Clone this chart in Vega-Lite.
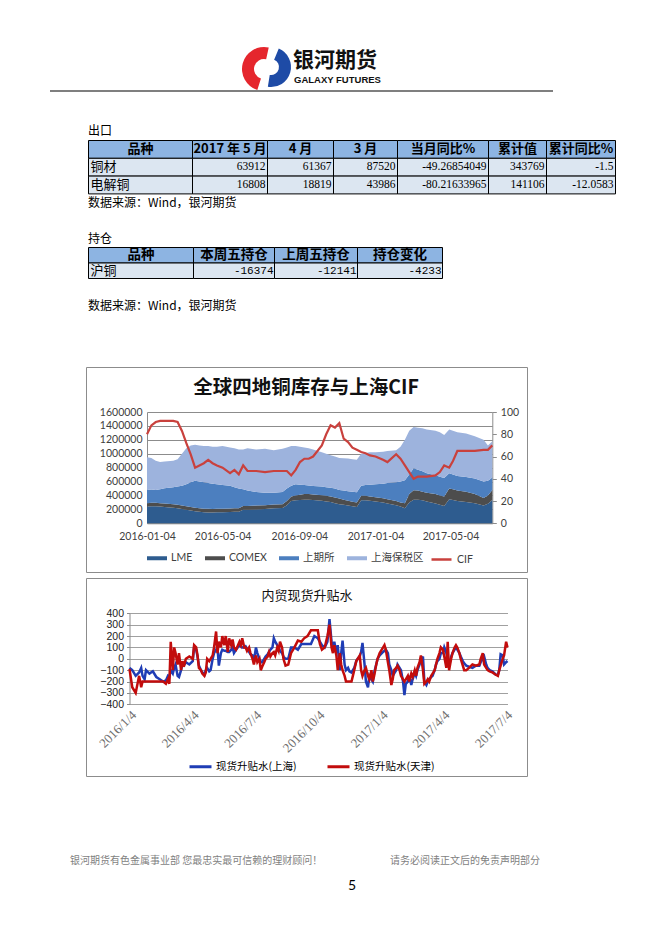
{
"$schema":"https://vega.github.io/schema/vega-lite/v6.json",
"width":662,"height":936,
"autosize":{"type":"none"},
"padding":0,
"background":"#ffffff",
"config":{
  "view":{"stroke":null},
  "font":"Noto Sans CJK SC",
  "scale":{"bandPaddingInner":0,"bandPaddingOuter":0,"rectBandPaddingInner":0,"barBandPaddingInner":0}
},
"datasets":{
  "t1":[
    {"r":"品种","c":"品种","t":"品种"},
    {"r":"品种","c":"2017 年 5 月","t":"2017 年 5 月"},
    {"r":"品种","c":"4 月","t":"4 月"},
    {"r":"品种","c":"3 月","t":"3 月"},
    {"r":"品种","c":"当月同比%","t":"当月同比%"},
    {"r":"品种","c":"累计值","t":"累计值"},
    {"r":"品种","c":"累计同比%","t":"累计同比%"},
    {"r":"铜材","c":"品种","t":"铜材"},
    {"r":"铜材","c":"2017 年 5 月","t":"63912"},
    {"r":"铜材","c":"4 月","t":"61367"},
    {"r":"铜材","c":"3 月","t":"87520"},
    {"r":"铜材","c":"当月同比%","t":"-49.26854049"},
    {"r":"铜材","c":"累计值","t":"343769"},
    {"r":"铜材","c":"累计同比%","t":"-1.5"},
    {"r":"电解铜","c":"品种","t":"电解铜"},
    {"r":"电解铜","c":"2017 年 5 月","t":"16808"},
    {"r":"电解铜","c":"4 月","t":"18819"},
    {"r":"电解铜","c":"3 月","t":"43986"},
    {"r":"电解铜","c":"当月同比%","t":"-80.21633965"},
    {"r":"电解铜","c":"累计值","t":"141106"},
    {"r":"电解铜","c":"累计同比%","t":"-12.0583"}
  ],
  "t2":[
    {"r":"品种","c":"品种","t":"品种"},
    {"r":"品种","c":"本周五持仓","t":"本周五持仓"},
    {"r":"品种","c":"上周五持仓","t":"上周五持仓"},
    {"r":"品种","c":"持仓变化","t":"持仓变化"},
    {"r":"沪铜","c":"品种","t":"沪铜"},
    {"r":"沪铜","c":"本周五持仓","t":"-16374"},
    {"r":"沪铜","c":"上周五持仓","t":"-12141"},
    {"r":"沪铜","c":"持仓变化","t":"-4233"}
  ],
  "ord":[{"series":"LME","k":1},{"series":"COMEX","k":2},{"series":"上期所","k":3},{"series":"上海保税区","k":4}],
  "inv":[
    {"d":"2016-01-04","LME":240000,"COMEX":50000,"上期所":190000,"上海保税区":470000,"CIF":80},
    {"d":"2016-01-11","LME":245000,"COMEX":50000,"上期所":190000,"上海保税区":455000,"CIF":88},
    {"d":"2016-01-18","LME":245000,"COMEX":50000,"上期所":185000,"上海保税区":420000,"CIF":91},
    {"d":"2016-01-25","LME":240000,"COMEX":50000,"上期所":200000,"上海保税区":390000,"CIF":92},
    {"d":"2016-02-01","LME":235000,"COMEX":50000,"上期所":220000,"上海保税区":385000,"CIF":92},
    {"d":"2016-02-15","LME":225000,"COMEX":50000,"上期所":245000,"上海保税区":380000,"CIF":92},
    {"d":"2016-02-22","LME":215000,"COMEX":50000,"上期所":265000,"上海保税区":390000,"CIF":91},
    {"d":"2016-02-29","LME":205000,"COMEX":50000,"上期所":285000,"上海保税区":460000,"CIF":83},
    {"d":"2016-03-07","LME":195000,"COMEX":50000,"上期所":315000,"上海保税区":520000,"CIF":72},
    {"d":"2016-03-14","LME":185000,"COMEX":50000,"上期所":355000,"上海保税区":530000,"CIF":62},
    {"d":"2016-03-21","LME":175000,"COMEX":50000,"上期所":385000,"上海保税区":520000,"CIF":50},
    {"d":"2016-03-28","LME":165000,"COMEX":50000,"上期所":385000,"上海保税区":520000,"CIF":52},
    {"d":"2016-04-04","LME":160000,"COMEX":50000,"上期所":380000,"上海保税区":520000,"CIF":54},
    {"d":"2016-04-11","LME":155000,"COMEX":53000,"上期所":372000,"上海保税区":530000,"CIF":57},
    {"d":"2016-04-18","LME":155000,"COMEX":50000,"上期所":365000,"上海保税区":530000,"CIF":54},
    {"d":"2016-04-25","LME":158000,"COMEX":50000,"上期所":352000,"上海保税区":540000,"CIF":52},
    {"d":"2016-05-04","LME":160000,"COMEX":50000,"上期所":340000,"上海保税区":560000,"CIF":50},
    {"d":"2016-05-16","LME":162000,"COMEX":50000,"上期所":328000,"上海保税区":550000,"CIF":45},
    {"d":"2016-05-23","LME":165000,"COMEX":50000,"上期所":305000,"上海保税区":560000,"CIF":48},
    {"d":"2016-05-30","LME":165000,"COMEX":50000,"上期所":285000,"上海保税区":560000,"CIF":44},
    {"d":"2016-06-06","LME":195000,"COMEX":55000,"上期所":240000,"上海保税区":570000,"CIF":52},
    {"d":"2016-06-13","LME":195000,"COMEX":55000,"上期所":220000,"上海保税区":610000,"CIF":47},
    {"d":"2016-06-27","LME":200000,"COMEX":55000,"上期所":195000,"上海保税区":610000,"CIF":47},
    {"d":"2016-07-11","LME":205000,"COMEX":55000,"上期所":180000,"上海保税区":630000,"CIF":46},
    {"d":"2016-07-25","LME":215000,"COMEX":55000,"上期所":170000,"上海保税区":610000,"CIF":47},
    {"d":"2016-08-08","LME":220000,"COMEX":55000,"上期所":175000,"上海保税区":620000,"CIF":47},
    {"d":"2016-08-15","LME":260000,"COMEX":60000,"上期所":180000,"上海保税区":590000,"CIF":47},
    {"d":"2016-08-22","LME":320000,"COMEX":65000,"上期所":155000,"上海保税区":570000,"CIF":43},
    {"d":"2016-08-29","LME":330000,"COMEX":70000,"上期所":160000,"上海保税区":550000,"CIF":48},
    {"d":"2016-09-05","LME":335000,"COMEX":75000,"上期所":145000,"上海保税区":545000,"CIF":55},
    {"d":"2016-09-12","LME":340000,"COMEX":80000,"上期所":130000,"上海保税区":540000,"CIF":58},
    {"d":"2016-09-19","LME":340000,"COMEX":80000,"上期所":125000,"上海保税区":535000,"CIF":58},
    {"d":"2016-09-26","LME":335000,"COMEX":80000,"上期所":120000,"上海保税区":525000,"CIF":60},
    {"d":"2016-10-10","LME":325000,"COMEX":80000,"上期所":125000,"上海保税区":490000,"CIF":70},
    {"d":"2016-10-17","LME":315000,"COMEX":80000,"上期所":125000,"上海保税区":480000,"CIF":80},
    {"d":"2016-10-24","LME":305000,"COMEX":80000,"上期所":125000,"上海保税区":470000,"CIF":88},
    {"d":"2016-10-31","LME":290000,"COMEX":80000,"上期所":130000,"上海保税区":460000,"CIF":86},
    {"d":"2016-11-07","LME":275000,"COMEX":80000,"上期所":125000,"上海保税区":460000,"CIF":90},
    {"d":"2016-11-14","LME":265000,"COMEX":75000,"上期所":130000,"上海保税区":465000,"CIF":76},
    {"d":"2016-11-21","LME":255000,"COMEX":70000,"上期所":135000,"上海保税区":470000,"CIF":73},
    {"d":"2016-11-28","LME":245000,"COMEX":65000,"上期所":145000,"上海保税区":465000,"CIF":68},
    {"d":"2016-12-05","LME":235000,"COMEX":65000,"上期所":145000,"上海保税区":470000,"CIF":66},
    {"d":"2016-12-12","LME":330000,"COMEX":65000,"上期所":145000,"上海保税区":460000,"CIF":64},
    {"d":"2016-12-19","LME":330000,"COMEX":65000,"上期所":155000,"上海保税区":460000,"CIF":63},
    {"d":"2016-12-26","LME":325000,"COMEX":60000,"上期所":170000,"上海保税区":465000,"CIF":61},
    {"d":"2017-01-04","LME":315000,"COMEX":60000,"上期所":185000,"上海保税区":460000,"CIF":60},
    {"d":"2017-01-16","LME":300000,"COMEX":60000,"上期所":210000,"上海保税区":460000,"CIF":57},
    {"d":"2017-01-23","LME":285000,"COMEX":60000,"上期所":235000,"上海保税区":460000,"CIF":55},
    {"d":"2017-02-06","LME":260000,"COMEX":60000,"上期所":270000,"上海保税区":460000,"CIF":62},
    {"d":"2017-02-13","LME":240000,"COMEX":60000,"上期所":300000,"上海保税区":500000,"CIF":58},
    {"d":"2017-02-20","LME":215000,"COMEX":75000,"上期所":330000,"上海保税区":580000,"CIF":52},
    {"d":"2017-02-27","LME":300000,"COMEX":120000,"上期所":280000,"上海保税区":630000,"CIF":46},
    {"d":"2017-03-06","LME":340000,"COMEX":135000,"上期所":315000,"上海保税区":595000,"CIF":40},
    {"d":"2017-03-13","LME":340000,"COMEX":130000,"上期所":300000,"上海保税区":605000,"CIF":42},
    {"d":"2017-03-20","LME":330000,"COMEX":125000,"上期所":295000,"上海保税区":615000,"CIF":42},
    {"d":"2017-03-27","LME":315000,"COMEX":125000,"上期所":280000,"上海保税区":630000,"CIF":42},
    {"d":"2017-04-10","LME":285000,"COMEX":135000,"上期所":270000,"上海保税区":640000,"CIF":43},
    {"d":"2017-04-17","LME":265000,"COMEX":135000,"上期所":270000,"上海保税区":640000,"CIF":46},
    {"d":"2017-04-24","LME":250000,"COMEX":135000,"上期所":265000,"上海保税区":620000,"CIF":52},
    {"d":"2017-05-02","LME":345000,"COMEX":155000,"上期所":220000,"上海保税区":630000,"CIF":50},
    {"d":"2017-05-08","LME":335000,"COMEX":155000,"上期所":210000,"上海保税区":630000,"CIF":56},
    {"d":"2017-05-15","LME":320000,"COMEX":150000,"上期所":210000,"上海保税区":630000,"CIF":65},
    {"d":"2017-05-29","LME":305000,"COMEX":150000,"上期所":210000,"上海保税区":625000,"CIF":65},
    {"d":"2017-06-12","LME":290000,"COMEX":130000,"上期所":225000,"上海保税区":605000,"CIF":65},
    {"d":"2017-06-26","LME":255000,"COMEX":110000,"上期所":235000,"上海保税区":600000,"CIF":66},
    {"d":"2017-07-03","LME":280000,"COMEX":120000,"上期所":210000,"上海保税区":510000,"CIF":66},
    {"d":"2017-07-10","LME":335000,"COMEX":145000,"上期所":180000,"上海保税区":520000,"CIF":70}
  ],
  "spot":[
    {"d":"2016-01-04","现货升贴水(上海)":-80,"现货升贴水(天津)":-90},
    {"d":"2016-01-08","现货升贴水(上海)":-100,"现货升贴水(天津)":-250},
    {"d":"2016-01-13","现货升贴水(上海)":-150,"现货升贴水(天津)":-300},
    {"d":"2016-01-18","现货升贴水(上海)":-120,"现货升贴水(天津)":-150},
    {"d":"2016-01-21","现货升贴水(上海)":-80,"现货升贴水(天津)":-250},
    {"d":"2016-01-23","现货升贴水(上海)":-150,"现货升贴水(天津)":-200},
    {"d":"2016-01-26","现货升贴水(上海)":-180,"现货升贴水(天津)":-200},
    {"d":"2016-01-28","现货升贴水(上海)":-100,"现货升贴水(天津)":-200},
    {"d":"2016-02-02","现货升贴水(上海)":-130,"现货升贴水(天津)":-200},
    {"d":"2016-02-07","现货升贴水(上海)":-110,"现货升贴水(天津)":-200},
    {"d":"2016-02-12","现货升贴水(上海)":-160,"现货升贴水(天津)":-200},
    {"d":"2016-02-17","现货升贴水(上海)":-180,"现货升贴水(天津)":-200},
    {"d":"2016-02-22","现货升贴水(上海)":-200,"现货升贴水(天津)":-200},
    {"d":"2016-02-26","现货升贴水(上海)":-190,"现货升贴水(天津)":-220},
    {"d":"2016-02-29","现货升贴水(上海)":-150,"现货升贴水(天津)":-180},
    {"d":"2016-03-02","现货升贴水(上海)":-160,"现货升贴水(天津)":-220},
    {"d":"2016-03-04","现货升贴水(上海)":-100,"现货升贴水(天津)":150},
    {"d":"2016-03-07","现货升贴水(上海)":-130,"现货升贴水(天津)":-100},
    {"d":"2016-03-09","现货升贴水(上海)":-80,"现货升贴水(天津)":100},
    {"d":"2016-03-11","现货升贴水(上海)":-50,"现货升贴水(天津)":50},
    {"d":"2016-03-14","现货升贴水(上海)":-150,"现货升贴水(天津)":-50},
    {"d":"2016-03-16","现货升贴水(上海)":-160,"现货升贴水(天津)":50},
    {"d":"2016-03-19","现货升贴水(上海)":-100,"现货升贴水(天津)":-100},
    {"d":"2016-03-21","现货升贴水(上海)":-50,"现货升贴水(天津)":-20},
    {"d":"2016-03-23","现货升贴水(上海)":-60,"现货升贴水(天津)":-70},
    {"d":"2016-03-26","现货升贴水(上海)":-30,"现货升贴水(天津)":0},
    {"d":"2016-03-31","现货升贴水(上海)":-50,"现货升贴水(天津)":20},
    {"d":"2016-04-05","现货升贴水(上海)":-20,"现货升贴水(天津)":0},
    {"d":"2016-04-07","现货升贴水(上海)":100,"现货升贴水(天津)":120},
    {"d":"2016-04-10","现货升贴水(上海)":80,"现货升贴水(天津)":100},
    {"d":"2016-04-12","现货升贴水(上海)":20,"现货升贴水(天津)":30},
    {"d":"2016-04-14","现货升贴水(上海)":-60,"现货升贴水(天津)":-80},
    {"d":"2016-04-17","现货升贴水(上海)":-100,"现货升贴水(天津)":-100},
    {"d":"2016-04-19","现货升贴水(上海)":-120,"现货升贴水(天津)":-130},
    {"d":"2016-04-22","现货升贴水(上海)":-140,"现货升贴水(天津)":-150},
    {"d":"2016-04-24","现货升贴水(上海)":-100,"现货升贴水(天津)":-120},
    {"d":"2016-04-26","现货升贴水(上海)":-80,"现货升贴水(天津)":0},
    {"d":"2016-04-29","现货升贴水(上海)":-110,"现货升贴水(天津)":-20},
    {"d":"2016-05-01","现货升贴水(上海)":-100,"现货升贴水(天津)":0},
    {"d":"2016-05-04","现货升贴水(上海)":0,"现货升贴水(天津)":30},
    {"d":"2016-05-06","现货升贴水(上海)":50,"现货升贴水(天津)":100},
    {"d":"2016-05-09","现货升贴水(上海)":80,"现货升贴水(天津)":240},
    {"d":"2016-05-11","现货升贴水(上海)":100,"现货升贴水(天津)":50},
    {"d":"2016-05-13","现货升贴水(上海)":-60,"现货升贴水(天津)":150},
    {"d":"2016-05-16","现货升贴水(上海)":50,"现货升贴水(天津)":100},
    {"d":"2016-05-18","现货升贴水(上海)":80,"现货升贴水(天津)":200},
    {"d":"2016-05-21","现货升贴水(上海)":70,"现货升贴水(天津)":120},
    {"d":"2016-05-23","现货升贴水(上海)":70,"现货升贴水(天津)":200},
    {"d":"2016-05-26","现货升贴水(上海)":60,"现货升贴水(天津)":60},
    {"d":"2016-05-28","现货升贴水(上海)":60,"现货升贴水(天津)":180},
    {"d":"2016-05-31","现货升贴水(上海)":80,"现货升贴水(天津)":120},
    {"d":"2016-06-02","现货升贴水(上海)":100,"现货升贴水(天津)":170},
    {"d":"2016-06-04","现货升贴水(上海)":50,"现货升贴水(天津)":100},
    {"d":"2016-06-07","现货升贴水(上海)":80,"现货升贴水(天津)":80},
    {"d":"2016-06-12","现货升贴水(上海)":120,"现货升贴水(天津)":150},
    {"d":"2016-06-14","现货升贴水(上海)":110,"现货升贴水(天津)":120},
    {"d":"2016-06-16","现货升贴水(上海)":100,"现货升贴水(天津)":180},
    {"d":"2016-06-19","现货升贴水(上海)":100,"现货升贴水(天津)":100},
    {"d":"2016-06-21","现货升贴水(上海)":110,"现货升贴水(天津)":100},
    {"d":"2016-06-23","现货升贴水(上海)":90,"现货升贴水(天津)":70},
    {"d":"2016-06-26","现货升贴水(上海)":60,"现货升贴水(天津)":100},
    {"d":"2016-06-28","现货升贴水(上海)":40,"现货升贴水(天津)":50},
    {"d":"2016-07-01","现货升贴水(上海)":30,"现货升贴水(天津)":0},
    {"d":"2016-07-03","现货升贴水(上海)":-20,"现货升贴水(天津)":-50},
    {"d":"2016-07-06","现货升贴水(上海)":100,"现货升贴水(天津)":30},
    {"d":"2016-07-08","现货升贴水(上海)":50,"现货升贴水(天津)":-30},
    {"d":"2016-07-11","现货升贴水(上海)":0,"现货升贴水(天津)":0},
    {"d":"2016-07-13","现货升贴水(上海)":-30,"现货升贴水(天津)":-100},
    {"d":"2016-07-15","现货升贴水(上海)":-30,"现货升贴水(天津)":-70},
    {"d":"2016-07-18","现货升贴水(上海)":0,"现货升贴水(天津)":-30},
    {"d":"2016-07-20","现货升贴水(上海)":20,"现货升贴水(天津)":0},
    {"d":"2016-07-23","现货升贴水(上海)":40,"现货升贴水(天津)":20},
    {"d":"2016-07-25","现货升贴水(上海)":60,"现货升贴水(天津)":60},
    {"d":"2016-07-27","现货升贴水(上海)":80,"现货升贴水(天津)":20},
    {"d":"2016-07-30","现货升贴水(上海)":100,"现货升贴水(天津)":50},
    {"d":"2016-08-01","现货升贴水(上海)":180,"现货升贴水(天津)":60},
    {"d":"2016-08-03","现货升贴水(上海)":150,"现货升贴水(天津)":30},
    {"d":"2016-08-06","现货升贴水(上海)":120,"现货升贴水(天津)":100},
    {"d":"2016-08-08","现货升贴水(上海)":100,"现货升贴水(天津)":70},
    {"d":"2016-08-10","现货升贴水(上海)":70,"现货升贴水(天津)":150},
    {"d":"2016-08-13","现货升贴水(上海)":50,"现货升贴水(天津)":100},
    {"d":"2016-08-15","现货升贴水(上海)":20,"现货升贴水(天津)":0},
    {"d":"2016-08-18","现货升贴水(上海)":0,"现货升贴水(天津)":-60},
    {"d":"2016-08-22","现货升贴水(上海)":0,"现货升贴水(天津)":-50},
    {"d":"2016-08-26","现货升贴水(上海)":100,"现货升贴水(天津)":50},
    {"d":"2016-08-31","现货升贴水(上海)":100,"现货升贴水(天津)":100},
    {"d":"2016-09-05","现货升贴水(上海)":80,"现货升贴水(天津)":160},
    {"d":"2016-09-10","现货升贴水(上海)":130,"现货升贴水(天津)":150},
    {"d":"2016-09-14","现货升贴水(上海)":130,"现货升贴水(天津)":180},
    {"d":"2016-09-19","现货升贴水(上海)":130,"现货升贴水(天津)":200},
    {"d":"2016-09-24","现货升贴水(上海)":130,"现货升贴水(天津)":250},
    {"d":"2016-09-29","现货升贴水(上海)":200,"现货升贴水(天津)":250},
    {"d":"2016-10-04","现货升贴水(上海)":180,"现货升贴水(天津)":250},
    {"d":"2016-10-07","现货升贴水(上海)":150,"现货升贴水(天津)":130},
    {"d":"2016-10-10","现货升贴水(上海)":120,"现货升贴水(天津)":80},
    {"d":"2016-10-14","现货升贴水(上海)":100,"现货升贴水(天津)":100},
    {"d":"2016-10-18","现货升贴水(上海)":150,"现货升贴水(天津)":200},
    {"d":"2016-10-21","现货升贴水(上海)":350,"现货升贴水(天津)":300},
    {"d":"2016-10-24","现货升贴水(上海)":150,"现货升贴水(天津)":100},
    {"d":"2016-10-26","现货升贴水(上海)":100,"现货升贴水(天津)":50},
    {"d":"2016-10-28","现货升贴水(上海)":150,"现货升贴水(天津)":120},
    {"d":"2016-10-31","现货升贴水(上海)":50,"现货升贴水(天津)":30},
    {"d":"2016-11-02","现货升贴水(上海)":120,"现货升贴水(天津)":-100},
    {"d":"2016-11-05","现货升贴水(上海)":-100,"现货升贴水(天津)":50},
    {"d":"2016-11-07","现货升贴水(上海)":50,"现货升贴水(天津)":-50},
    {"d":"2016-11-09","现货升贴水(上海)":160,"现货升贴水(天津)":-100},
    {"d":"2016-11-12","现货升贴水(上海)":-50,"现货升贴水(天津)":-150},
    {"d":"2016-11-14","现货升贴水(上海)":-100,"现货升贴水(天津)":-200},
    {"d":"2016-11-17","现货升贴水(上海)":-80,"现货升贴水(天津)":-200},
    {"d":"2016-11-19","现货升贴水(上海)":-110,"现货升贴水(天津)":-200},
    {"d":"2016-11-22","现货升贴水(上海)":-120,"现货升贴水(天津)":-200},
    {"d":"2016-11-24","现货升贴水(上海)":-100,"现货升贴水(天津)":-150},
    {"d":"2016-11-26","现货升贴水(上海)":-80,"现货升贴水(天津)":-100},
    {"d":"2016-11-29","现货升贴水(上海)":-20,"现货升贴水(天津)":-20},
    {"d":"2016-12-01","现货升贴水(上海)":0,"现货升贴水(天津)":0},
    {"d":"2016-12-04","现货升贴水(上海)":20,"现货升贴水(天津)":30},
    {"d":"2016-12-06","现货升贴水(上海)":60,"现货升贴水(天津)":-100},
    {"d":"2016-12-08","现货升贴水(上海)":140,"现货升贴水(天津)":-150},
    {"d":"2016-12-11","现货升贴水(上海)":-50,"现货升贴水(天津)":-100},
    {"d":"2016-12-13","现货升贴水(上海)":-200,"现货升贴水(天津)":-80},
    {"d":"2016-12-16","现货升贴水(上海)":-250,"现货升贴水(天津)":-150},
    {"d":"2016-12-18","现货升贴水(上海)":-150,"现货升贴水(天津)":-180},
    {"d":"2016-12-21","现货升贴水(上海)":-180,"现货升贴水(天津)":-100},
    {"d":"2016-12-23","现货升贴水(上海)":-200,"现货升贴水(天津)":-200},
    {"d":"2016-12-25","现货升贴水(上海)":-120,"现货升贴水(天津)":-150},
    {"d":"2016-12-28","现货升贴水(上海)":-50,"现货升贴水(天津)":-50},
    {"d":"2016-12-30","现货升贴水(上海)":0,"现货升贴水(天津)":0},
    {"d":"2017-01-02","现货升贴水(上海)":30,"现货升贴水(天津)":50},
    {"d":"2017-01-07","现货升贴水(上海)":60,"现货升贴水(天津)":100},
    {"d":"2017-01-09","现货升贴水(上海)":70,"现货升贴水(天津)":120},
    {"d":"2017-01-11","现货升贴水(上海)":80,"现货升贴水(天津)":80},
    {"d":"2017-01-14","现货升贴水(上海)":50,"现货升贴水(天津)":-30},
    {"d":"2017-01-16","现货升贴水(上海)":-50,"现货升贴水(天津)":-100},
    {"d":"2017-01-19","现货升贴水(上海)":-100,"现货升贴水(天津)":-230},
    {"d":"2017-01-21","现货升贴水(上海)":-150,"现货升贴水(天津)":-180},
    {"d":"2017-01-23","现货升贴水(上海)":-130,"现货升贴水(天津)":-100},
    {"d":"2017-01-26","现货升贴水(上海)":-100,"现货升贴水(天津)":-80},
    {"d":"2017-01-28","现货升贴水(上海)":-50,"现货升贴水(天津)":-60},
    {"d":"2017-01-31","现货升贴水(上海)":-80,"现货升贴水(天津)":-100},
    {"d":"2017-02-02","现货升贴水(上海)":-100,"现货升贴水(天津)":-150},
    {"d":"2017-02-05","现货升贴水(上海)":-200,"现货升贴水(天津)":-180},
    {"d":"2017-02-07","现货升贴水(上海)":-320,"现货升贴水(天津)":-200},
    {"d":"2017-02-09","现货升贴水(上海)":-220,"现货升贴水(天津)":-180},
    {"d":"2017-02-12","现货升贴水(上海)":-200,"现货升贴水(天津)":-150},
    {"d":"2017-02-14","现货升贴水(上海)":-150,"现货升贴水(天津)":-200},
    {"d":"2017-02-17","现货升贴水(上海)":-230,"现货升贴水(天津)":-130},
    {"d":"2017-02-19","现货升贴水(上海)":-180,"现货升贴水(天津)":-160},
    {"d":"2017-02-22","现货升贴水(上海)":-120,"现货升贴水(天津)":-100},
    {"d":"2017-02-24","现货升贴水(上海)":-150,"现货升贴水(天津)":-150},
    {"d":"2017-02-26","现货升贴水(上海)":-100,"现货升贴水(天津)":-80},
    {"d":"2017-03-01","现货升贴水(上海)":-50,"现货升贴水(天津)":-30},
    {"d":"2017-03-03","现货升贴水(上海)":-20,"现货升贴水(天津)":30},
    {"d":"2017-03-06","现货升贴水(上海)":20,"现货升贴水(天津)":-100},
    {"d":"2017-03-08","现货升贴水(上海)":-200,"现货升贴水(天津)":-220},
    {"d":"2017-03-11","现货升贴水(上海)":-230,"现货升贴水(天津)":-200},
    {"d":"2017-03-13","现货升贴水(上海)":-200,"现货升贴水(天津)":-180},
    {"d":"2017-03-15","现货升贴水(上海)":-180,"现货升贴水(天津)":-200},
    {"d":"2017-03-18","现货升贴水(上海)":-160,"现货升贴水(天津)":-150},
    {"d":"2017-03-20","现货升贴水(上海)":-150,"现货升贴水(天津)":-130},
    {"d":"2017-03-23","现货升贴水(上海)":-100,"现货升贴水(天津)":-100},
    {"d":"2017-03-25","现货升贴水(上海)":-50,"现货升贴水(天津)":-50},
    {"d":"2017-03-27","现货升贴水(上海)":-20,"现货升贴水(天津)":0},
    {"d":"2017-03-30","现货升贴水(上海)":0,"现货升贴水(天津)":50},
    {"d":"2017-04-01","现货升贴水(上海)":50,"现货升贴水(天津)":100},
    {"d":"2017-04-04","现货升贴水(上海)":50,"现货升贴水(天津)":80},
    {"d":"2017-04-06","现货升贴水(上海)":100,"现货升贴水(天津)":20},
    {"d":"2017-04-09","现货升贴水(上海)":50,"现货升贴水(天津)":-80},
    {"d":"2017-04-11","现货升贴水(上海)":0,"现货升贴水(天津)":150},
    {"d":"2017-04-13","现货升贴水(上海)":-60,"现货升贴水(天津)":-100},
    {"d":"2017-04-16","现货升贴水(上海)":20,"现货升贴水(天津)":0},
    {"d":"2017-04-18","现货升贴水(上海)":50,"现货升贴水(天津)":50},
    {"d":"2017-04-21","现货升贴水(上海)":80,"现货升贴水(天津)":100},
    {"d":"2017-04-23","现货升贴水(上海)":100,"现货升贴水(天津)":120},
    {"d":"2017-04-25","现货升贴水(上海)":80,"现货升贴水(天津)":100},
    {"d":"2017-04-28","现货升贴水(上海)":50,"现货升贴水(天津)":50},
    {"d":"2017-04-30","现货升贴水(上海)":20,"现货升贴水(天津)":0},
    {"d":"2017-05-03","现货升贴水(上海)":-20,"现货升贴水(天津)":-60},
    {"d":"2017-05-05","现货升贴水(上海)":-40,"现货升贴水(天津)":-100},
    {"d":"2017-05-08","现货升贴水(上海)":-60,"现货升贴水(天津)":-100},
    {"d":"2017-05-12","现货升贴水(上海)":-70,"现货升贴水(天津)":-80},
    {"d":"2017-05-17","现货升贴水(上海)":-80,"现货升贴水(天津)":-50},
    {"d":"2017-05-22","现货升贴水(上海)":-60,"现货升贴水(天津)":-60},
    {"d":"2017-05-27","现货升贴水(上海)":-60,"现货升贴水(天津)":-50},
    {"d":"2017-05-29","现货升贴水(上海)":-30,"现货升贴水(天津)":0},
    {"d":"2017-06-01","现货升贴水(上海)":0,"现货升贴水(天津)":50},
    {"d":"2017-06-03","现货升贴水(上海)":20,"现货升贴水(天津)":-50},
    {"d":"2017-06-06","现货升贴水(上海)":-50,"现货升贴水(天津)":-80},
    {"d":"2017-06-08","现货升贴水(上海)":-80,"现货升贴水(天津)":-100},
    {"d":"2017-06-11","现货升贴水(上海)":-100,"现货升贴水(天津)":-110},
    {"d":"2017-06-15","现货升贴水(上海)":-110,"现货升贴水(天津)":-120},
    {"d":"2017-06-20","现货升贴水(上海)":-140,"现货升贴水(天津)":-140},
    {"d":"2017-06-23","现货升贴水(上海)":-140,"现货升贴水(天津)":-150},
    {"d":"2017-06-25","现货升贴水(上海)":-100,"现货升贴水(天津)":-100},
    {"d":"2017-06-27","现货升贴水(上海)":40,"现货升贴水(天津)":-60},
    {"d":"2017-06-30","现货升贴水(上海)":30,"现货升贴水(天津)":0},
    {"d":"2017-07-02","现货升贴水(上海)":-50,"现货升贴水(天津)":30},
    {"d":"2017-07-05","现货升贴水(上海)":-30,"现货升贴水(天津)":150},
    {"d":"2017-07-07","现货升贴水(上海)":-20,"现货升贴水(天津)":100}
  ]
},
"resolve":{
  "scale":{"x":"independent","y":"independent","fill":"independent","stroke":"independent"},
  "axis":{"x":"independent","y":"independent"},
  "legend":{"fill":"independent","stroke":"independent"}
},
"layer":[
  {"data":{"values":[{}]},"mark":{"type":"rect","filled":false,"stroke":"#8C8C8C","strokeWidth":1},
   "encoding":{"x":{"value":86.5},"x2":{"value":527.5},"y":{"value":367.5},"y2":{"value":572.5}}},
  {"data":{"values":[{}]},"mark":{"type":"rect","filled":false,"stroke":"#8C8C8C","strokeWidth":1},
   "encoding":{"x":{"value":86.5},"x2":{"value":527.5},"y":{"value":578.5},"y2":{"value":776.5}}},

  {"data":{"values":[{}]},"mark":{"type":"arc","radius":22,"radius2":10,"theta":3.45,"theta2":6.5,"fill":"#E5262D"},
   "encoding":{"x":{"value":264},"y":{"value":69}}},
  {"data":{"values":[{}]},"mark":{"type":"arc","radius":20,"radius2":8,"theta":0.4,"theta2":3.3,"fill":"#1E4BA6"},
   "encoding":{"x":{"value":271},"y":{"value":67}}},
  {"data":{"values":[{}]},"mark":{"type":"text","text":"银河期货","align":"left","baseline":"middle","fontSize":21,"fontWeight":"bold","color":"#111111"},
   "encoding":{"x":{"value":293},"y":{"value":60.5}}},
  {"data":{"values":[{}]},"mark":{"type":"text","text":"GALAXY FUTURES","align":"left","baseline":"middle","fontSize":9.5,"fontWeight":"bold","font":"Liberation Sans","color":"#111111"},
   "encoding":{"x":{"value":294},"y":{"value":79.5}}},
  {"data":{"values":[{}]},"mark":{"type":"rule","stroke":"#000000","strokeWidth":1.2},
   "encoding":{"x":{"value":50},"x2":{"value":553},"y":{"value":91}}},

  {"data":{"values":[{}]},"mark":{"type":"text","text":"出口","align":"left","baseline":"middle","fontSize":12,"color":"#000000"},
   "encoding":{"x":{"value":88},"y":{"value":131}}},
  {"data":{"values":[{}]},"mark":{"type":"text","text":"数据来源：Wind，银河期货","align":"left","baseline":"middle","fontSize":12,"color":"#000000"},
   "encoding":{"x":{"value":88},"y":{"value":203}}},
  {"data":{"values":[{}]},"mark":{"type":"text","text":"持仓","align":"left","baseline":"middle","fontSize":12,"color":"#000000"},
   "encoding":{"x":{"value":88},"y":{"value":239}}},
  {"data":{"values":[{}]},"mark":{"type":"text","text":"数据来源：Wind，银河期货","align":"left","baseline":"middle","fontSize":12,"color":"#000000"},
   "encoding":{"x":{"value":88},"y":{"value":306}}},

  {"data":{"name":"t1"},
   "encoding":{"y":{"field":"r","type":"nominal","scale":{"domain":["品种","铜材","电解铜"],"range":[140.5,193.9]},"axis":null}},
   "resolve":{"scale":{"x":"independent"}},
   "layer":[
    {"transform":[{"filter":{"field":"c","equal":"品种"}}],
     "encoding":{"x":{"field":"c","type":"nominal","scale":{"domain":["品种"],"range":[88.5,192.5]},"axis":null}},
     "layer":[
      {"mark":{"type":"rect","stroke":"#000000","strokeWidth":1},"encoding":{"fill":{"field":"r","type":"nominal","scale":{"domain":["品种","铜材","电解铜"],"range":["#8DB4E2","#DCE6F1","#DCE6F1"]},"legend":null}}},
      {"transform":[{"filter":{"field":"r","equal":"品种"}}],"mark":{"type":"text","fontWeight":"bold","fontSize":13,"color":"#000000"},"encoding":{"text":{"field":"t","type":"nominal"}}},
      {"transform":[{"filter":{"not":{"field":"r","equal":"品种"}}}],"mark":{"type":"text","align":"left","dx":2,"fontSize":13,"color":"#000000"},"encoding":{"x":{"field":"c","type":"nominal","bandPosition":0},"text":{"field":"t","type":"nominal"}}}
     ]},
    {"transform":[{"filter":{"field":"c","equal":"2017 年 5 月"}}],
     "encoding":{"x":{"field":"c","type":"nominal","scale":{"domain":["2017 年 5 月"],"range":[192.5,267.5]},"axis":null}},
     "layer":[
      {"mark":{"type":"rect","stroke":"#000000","strokeWidth":1},"encoding":{"fill":{"field":"r","type":"nominal","scale":{"domain":["品种","铜材","电解铜"],"range":["#8DB4E2","#DCE6F1","#DCE6F1"]},"legend":null}}},
      {"transform":[{"filter":{"field":"r","equal":"品种"}}],"mark":{"type":"text","fontWeight":"bold","fontSize":13,"color":"#000000"},"encoding":{"text":{"field":"t","type":"nominal"}}},
      {"transform":[{"filter":{"not":{"field":"r","equal":"品种"}}}],"mark":{"type":"text","align":"right","dx":-2,"font":"Liberation Serif","fontSize":11.5,"color":"#000000"},"encoding":{"x":{"field":"c","type":"nominal","bandPosition":1},"text":{"field":"t","type":"nominal"}}}
     ]},
    {"transform":[{"filter":{"field":"c","equal":"4 月"}}],
     "encoding":{"x":{"field":"c","type":"nominal","scale":{"domain":["4 月"],"range":[267.5,333.5]},"axis":null}},
     "layer":[
      {"mark":{"type":"rect","stroke":"#000000","strokeWidth":1},"encoding":{"fill":{"field":"r","type":"nominal","scale":{"domain":["品种","铜材","电解铜"],"range":["#8DB4E2","#DCE6F1","#DCE6F1"]},"legend":null}}},
      {"transform":[{"filter":{"field":"r","equal":"品种"}}],"mark":{"type":"text","fontWeight":"bold","fontSize":13,"color":"#000000"},"encoding":{"text":{"field":"t","type":"nominal"}}},
      {"transform":[{"filter":{"not":{"field":"r","equal":"品种"}}}],"mark":{"type":"text","align":"right","dx":-2,"font":"Liberation Serif","fontSize":11.5,"color":"#000000"},"encoding":{"x":{"field":"c","type":"nominal","bandPosition":1},"text":{"field":"t","type":"nominal"}}}
     ]},
    {"transform":[{"filter":{"field":"c","equal":"3 月"}}],
     "encoding":{"x":{"field":"c","type":"nominal","scale":{"domain":["3 月"],"range":[333.5,397.5]},"axis":null}},
     "layer":[
      {"mark":{"type":"rect","stroke":"#000000","strokeWidth":1},"encoding":{"fill":{"field":"r","type":"nominal","scale":{"domain":["品种","铜材","电解铜"],"range":["#8DB4E2","#DCE6F1","#DCE6F1"]},"legend":null}}},
      {"transform":[{"filter":{"field":"r","equal":"品种"}}],"mark":{"type":"text","fontWeight":"bold","fontSize":13,"color":"#000000"},"encoding":{"text":{"field":"t","type":"nominal"}}},
      {"transform":[{"filter":{"not":{"field":"r","equal":"品种"}}}],"mark":{"type":"text","align":"right","dx":-2,"font":"Liberation Serif","fontSize":11.5,"color":"#000000"},"encoding":{"x":{"field":"c","type":"nominal","bandPosition":1},"text":{"field":"t","type":"nominal"}}}
     ]},
    {"transform":[{"filter":{"field":"c","equal":"当月同比%"}}],
     "encoding":{"x":{"field":"c","type":"nominal","scale":{"domain":["当月同比%"],"range":[397.5,488.5]},"axis":null}},
     "layer":[
      {"mark":{"type":"rect","stroke":"#000000","strokeWidth":1},"encoding":{"fill":{"field":"r","type":"nominal","scale":{"domain":["品种","铜材","电解铜"],"range":["#8DB4E2","#DCE6F1","#DCE6F1"]},"legend":null}}},
      {"transform":[{"filter":{"field":"r","equal":"品种"}}],"mark":{"type":"text","fontWeight":"bold","fontSize":13,"color":"#000000"},"encoding":{"text":{"field":"t","type":"nominal"}}},
      {"transform":[{"filter":{"not":{"field":"r","equal":"品种"}}}],"mark":{"type":"text","align":"right","dx":-2,"font":"Liberation Serif","fontSize":11.5,"color":"#000000"},"encoding":{"x":{"field":"c","type":"nominal","bandPosition":1},"text":{"field":"t","type":"nominal"}}}
     ]},
    {"transform":[{"filter":{"field":"c","equal":"累计值"}}],
     "encoding":{"x":{"field":"c","type":"nominal","scale":{"domain":["累计值"],"range":[488.5,546.5]},"axis":null}},
     "layer":[
      {"mark":{"type":"rect","stroke":"#000000","strokeWidth":1},"encoding":{"fill":{"field":"r","type":"nominal","scale":{"domain":["品种","铜材","电解铜"],"range":["#8DB4E2","#DCE6F1","#DCE6F1"]},"legend":null}}},
      {"transform":[{"filter":{"field":"r","equal":"品种"}}],"mark":{"type":"text","fontWeight":"bold","fontSize":13,"color":"#000000"},"encoding":{"text":{"field":"t","type":"nominal"}}},
      {"transform":[{"filter":{"not":{"field":"r","equal":"品种"}}}],"mark":{"type":"text","align":"right","dx":-2,"font":"Liberation Serif","fontSize":11.5,"color":"#000000"},"encoding":{"x":{"field":"c","type":"nominal","bandPosition":1},"text":{"field":"t","type":"nominal"}}}
     ]},
    {"transform":[{"filter":{"field":"c","equal":"累计同比%"}}],
     "encoding":{"x":{"field":"c","type":"nominal","scale":{"domain":["累计同比%"],"range":[546.5,615.5]},"axis":null}},
     "layer":[
      {"mark":{"type":"rect","stroke":"#000000","strokeWidth":1},"encoding":{"fill":{"field":"r","type":"nominal","scale":{"domain":["品种","铜材","电解铜"],"range":["#8DB4E2","#DCE6F1","#DCE6F1"]},"legend":null}}},
      {"transform":[{"filter":{"field":"r","equal":"品种"}}],"mark":{"type":"text","fontWeight":"bold","fontSize":13,"color":"#000000"},"encoding":{"text":{"field":"t","type":"nominal"}}},
      {"transform":[{"filter":{"not":{"field":"r","equal":"品种"}}}],"mark":{"type":"text","align":"right","dx":-2,"font":"Liberation Serif","fontSize":11.5,"color":"#000000"},"encoding":{"x":{"field":"c","type":"nominal","bandPosition":1},"text":{"field":"t","type":"nominal"}}}
     ]}
   ]},

  {"data":{"name":"t2"},
   "encoding":{"y":{"field":"r","type":"nominal","scale":{"domain":["品种","沪铜"],"range":[247.5,278.5]},"axis":null}},
   "resolve":{"scale":{"x":"independent"}},
   "layer":[
    {"transform":[{"filter":{"field":"c","equal":"品种"}}],
     "encoding":{"x":{"field":"c","type":"nominal","scale":{"domain":["品种"],"range":[88.5,193.5]},"axis":null}},
     "layer":[
      {"mark":{"type":"rect","stroke":"#000000","strokeWidth":1},"encoding":{"fill":{"field":"r","type":"nominal","scale":{"domain":["品种","沪铜"],"range":["#8DB4E2","#DCE6F1"]},"legend":null}}},
      {"transform":[{"filter":{"field":"r","equal":"品种"}}],"mark":{"type":"text","fontWeight":"bold","fontSize":13.5,"color":"#000000"},"encoding":{"text":{"field":"t","type":"nominal"}}},
      {"transform":[{"filter":{"not":{"field":"r","equal":"品种"}}}],"mark":{"type":"text","align":"left","dx":2,"fontSize":13,"color":"#000000"},"encoding":{"x":{"field":"c","type":"nominal","bandPosition":0},"text":{"field":"t","type":"nominal"}}}
     ]},
    {"transform":[{"filter":{"field":"c","equal":"本周五持仓"}}],
     "encoding":{"x":{"field":"c","type":"nominal","scale":{"domain":["本周五持仓"],"range":[193.5,274.5]},"axis":null}},
     "layer":[
      {"mark":{"type":"rect","stroke":"#000000","strokeWidth":1},"encoding":{"fill":{"field":"r","type":"nominal","scale":{"domain":["品种","沪铜"],"range":["#8DB4E2","#DCE6F1"]},"legend":null}}},
      {"transform":[{"filter":{"field":"r","equal":"品种"}}],"mark":{"type":"text","fontWeight":"bold","fontSize":13.5,"color":"#000000"},"encoding":{"text":{"field":"t","type":"nominal"}}},
      {"transform":[{"filter":{"not":{"field":"r","equal":"品种"}}}],"mark":{"type":"text","align":"right","dx":-1,"font":"Liberation Mono","fontSize":11,"color":"#000000"},"encoding":{"x":{"field":"c","type":"nominal","bandPosition":1},"text":{"field":"t","type":"nominal"}}}
     ]},
    {"transform":[{"filter":{"field":"c","equal":"上周五持仓"}}],
     "encoding":{"x":{"field":"c","type":"nominal","scale":{"domain":["上周五持仓"],"range":[274.5,357.5]},"axis":null}},
     "layer":[
      {"mark":{"type":"rect","stroke":"#000000","strokeWidth":1},"encoding":{"fill":{"field":"r","type":"nominal","scale":{"domain":["品种","沪铜"],"range":["#8DB4E2","#DCE6F1"]},"legend":null}}},
      {"transform":[{"filter":{"field":"r","equal":"品种"}}],"mark":{"type":"text","fontWeight":"bold","fontSize":13.5,"color":"#000000"},"encoding":{"text":{"field":"t","type":"nominal"}}},
      {"transform":[{"filter":{"not":{"field":"r","equal":"品种"}}}],"mark":{"type":"text","align":"right","dx":-1,"font":"Liberation Mono","fontSize":11,"color":"#000000"},"encoding":{"x":{"field":"c","type":"nominal","bandPosition":1},"text":{"field":"t","type":"nominal"}}}
     ]},
    {"transform":[{"filter":{"field":"c","equal":"持仓变化"}}],
     "encoding":{"x":{"field":"c","type":"nominal","scale":{"domain":["持仓变化"],"range":[357.5,442.5]},"axis":null}},
     "layer":[
      {"mark":{"type":"rect","stroke":"#000000","strokeWidth":1},"encoding":{"fill":{"field":"r","type":"nominal","scale":{"domain":["品种","沪铜"],"range":["#8DB4E2","#DCE6F1"]},"legend":null}}},
      {"transform":[{"filter":{"field":"r","equal":"品种"}}],"mark":{"type":"text","fontWeight":"bold","fontSize":13.5,"color":"#000000"},"encoding":{"text":{"field":"t","type":"nominal"}}},
      {"transform":[{"filter":{"not":{"field":"r","equal":"品种"}}}],"mark":{"type":"text","align":"right","dx":-1,"font":"Liberation Mono","fontSize":11,"color":"#000000"},"encoding":{"x":{"field":"c","type":"nominal","bandPosition":1},"text":{"field":"t","type":"nominal"}}}
     ]}
   ]},

  {"data":{"values":[{}]},"mark":{"type":"text","text":"全球四地铜库存与上海CIF","align":"center","baseline":"middle","fontSize":19.5,"fontWeight":"bold","color":"#111111"},
   "encoding":{"x":{"value":306},"y":{"value":388}}},

  {"data":{"name":"inv"},
   "encoding":{"x":{"field":"d","type":"temporal",
      "scale":{"type":"utc","domain":[{"year":2016,"month":1,"date":4,"utc":true},{"year":2017,"month":7,"date":10,"utc":true}],"range":[147,492.3]},
      "axis":{"orient":"bottom","offset":-412.7,"title":null,"grid":false,"ticks":false,"domain":true,"domainColor":"#8C8C8C",
        "values":[{"year":2016,"month":1,"date":4,"utc":true},{"year":2016,"month":5,"date":4,"utc":true},{"year":2016,"month":9,"date":4,"utc":true},{"year":2017,"month":1,"date":4,"utc":true},{"year":2017,"month":5,"date":4,"utc":true}],
        "format":"%Y-%m-%d","labelFont":"Lato","labelFontSize":10.5,"labelColor":"#404040","labelPadding":8,"labelFlush":false,"labelOverlap":false}}},
   "resolve":{"scale":{"y":"independent"}},
   "layer":[
    {"transform":[{"fold":["LME","COMEX","上期所","上海保税区"],"as":["series","stock"]},
                  {"lookup":"series","from":{"data":{"name":"ord"},"key":"series","fields":["k"]}}],
     "mark":{"type":"area","opacity":1,"interpolate":"linear"},
     "encoding":{
       "y":{"field":"stock","type":"quantitative","stack":"zero","scale":{"domain":[0,1600000],"range":[523.3,412],"nice":false},
         "axis":{"orient":"left","offset":-147,"title":null,"values":[0,200000,400000,600000,800000,1000000,1200000,1400000,1600000],"format":"d",
           "grid":true,"gridColor":"#8C8C8C","domain":true,"domainColor":"#8C8C8C","ticks":false,"labelPadding":5,
           "labelFont":"Lato","labelFontSize":10.5,"labelColor":"#404040"}},
       "fill":{"field":"series","type":"nominal",
         "scale":{"domain":["LME","COMEX","上期所","上海保税区"],"range":["#2E5C8F","#4D4D4D","#4C7FBF","#9DB3DD"]},
         "legend":{"orient":"none","legendX":147,"legendY":548,"direction":"horizontal","title":null,"padding":0,
           "symbolType":"M-1,-0.2H1V0.2H-1Z","symbolSize":400,"symbolStrokeWidth":0,"labelOffset":4,"columnPadding":12,
           "labelFont":"Lato, Noto Sans CJK SC","labelFontSize":10.5,"labelColor":"#404040","labelLimit":200}},
       "order":{"field":"k","type":"quantitative"}
     }},
    {"mark":{"type":"line","strokeWidth":2.2,"interpolate":"linear"},
     "encoding":{
       "y":{"field":"CIF","type":"quantitative","scale":{"domain":[0,100],"range":[523.3,412],"nice":false},
         "axis":{"orient":"right","offset":-169.7,"title":null,"values":[0,20,40,60,80,100],"grid":false,"domain":true,"domainColor":"#8C8C8C",
           "ticks":true,"tickColor":"#8C8C8C","tickSize":4,"labelPadding":4,"labelFont":"Lato","labelFontSize":10.5,"labelColor":"#404040"}},
       "stroke":{"datum":"CIF","type":"nominal","scale":{"domain":["CIF"],"range":["#C9413D"]},
         "legend":{"orient":"none","legendX":430,"legendY":548,"direction":"horizontal","title":null,"padding":0,
           "symbolType":"stroke","symbolSize":400,"symbolStrokeWidth":2.5,"labelOffset":4,
           "labelFont":"Lato","labelFontSize":10.5,"labelColor":"#404040"}}
     }}
   ]},

  {"data":{"values":[{}]},"mark":{"type":"text","text":"内贸现货升贴水","align":"center","baseline":"middle","fontSize":13,"color":"#111111"},
   "encoding":{"x":{"value":307},"y":{"value":596}}},

  {"data":{"name":"spot"},
   "transform":[{"fold":["现货升贴水(上海)","现货升贴水(天津)"],"as":["series","v"]}],
   "mark":{"type":"line","strokeWidth":2.5,"interpolate":"linear"},
   "encoding":{
     "x":{"field":"d","type":"temporal",
       "scale":{"type":"utc","domain":[{"year":2016,"month":1,"date":4,"utc":true},{"year":2017,"month":7,"date":7,"utc":true}],"range":[129.5,507.5]},
       "axis":{"orient":"bottom","offset":-231.7,"title":null,"grid":false,"ticks":false,"domain":false,
         "values":[{"year":2016,"month":1,"date":4,"utc":true},{"year":2016,"month":4,"date":4,"utc":true},{"year":2016,"month":7,"date":4,"utc":true},{"year":2016,"month":10,"date":4,"utc":true},{"year":2017,"month":1,"date":4,"utc":true},{"year":2017,"month":4,"date":4,"utc":true},{"year":2017,"month":7,"date":4,"utc":true}],
         "format":"%Y/%-m/%-d","labelAngle":-45,"labelFont":"Liberation Serif","labelFontSize":13,"labelColor":"#6E6E6E","labelPadding":4,"labelFlush":false,"labelOverlap":false}},
     "y":{"field":"v","type":"quantitative","scale":{"domain":[-400,400],"range":[704.3,613.3],"nice":false},
       "axis":{"orient":"left","offset":-129.5,"title":null,"values":[-400,-300,-200,-100,0,100,200,300,400],
         "grid":true,"gridColor":"#A0A0A0","domain":true,"domainColor":"#8C8C8C","ticks":true,"tickSize":3,"tickColor":"#8C8C8C","labelPadding":3,
         "labelFont":"Liberation Sans","labelFontSize":10.5,"labelColor":"#222222"}},
     "stroke":{"field":"series","type":"nominal",
       "scale":{"domain":["现货升贴水(上海)","现货升贴水(天津)"],"range":["#1F3DB5","#C20C0C"]},
       "legend":{"orient":"none","legendX":188,"legendY":754,"direction":"horizontal","title":null,"padding":0,
         "symbolType":"stroke","symbolSize":484,"symbolStrokeWidth":3,"labelOffset":3,"columnPadding":24,
         "labelFont":"Noto Sans CJK SC","labelFontSize":10.5,"labelColor":"#000000","labelLimit":200}}
   }},

  {"data":{"values":[{}]},"mark":{"type":"text","text":"银河期货有色金属事业部  您最忠实最可信赖的理财顾问！","align":"left","baseline":"middle","fontSize":10,"color":"#7F7F7F"},
   "encoding":{"x":{"value":70},"y":{"value":861}}},
  {"data":{"values":[{}]},"mark":{"type":"text","text":"请务必阅读正文后的免责声明部分","align":"left","baseline":"middle","fontSize":10,"color":"#7F7F7F"},
   "encoding":{"x":{"value":390},"y":{"value":861}}},
  {"data":{"values":[{}]},"mark":{"type":"text","text":"5","align":"center","baseline":"middle","fontSize":14,"font":"Lato","color":"#000000"},
   "encoding":{"x":{"value":352},"y":{"value":886}}}
]
}
